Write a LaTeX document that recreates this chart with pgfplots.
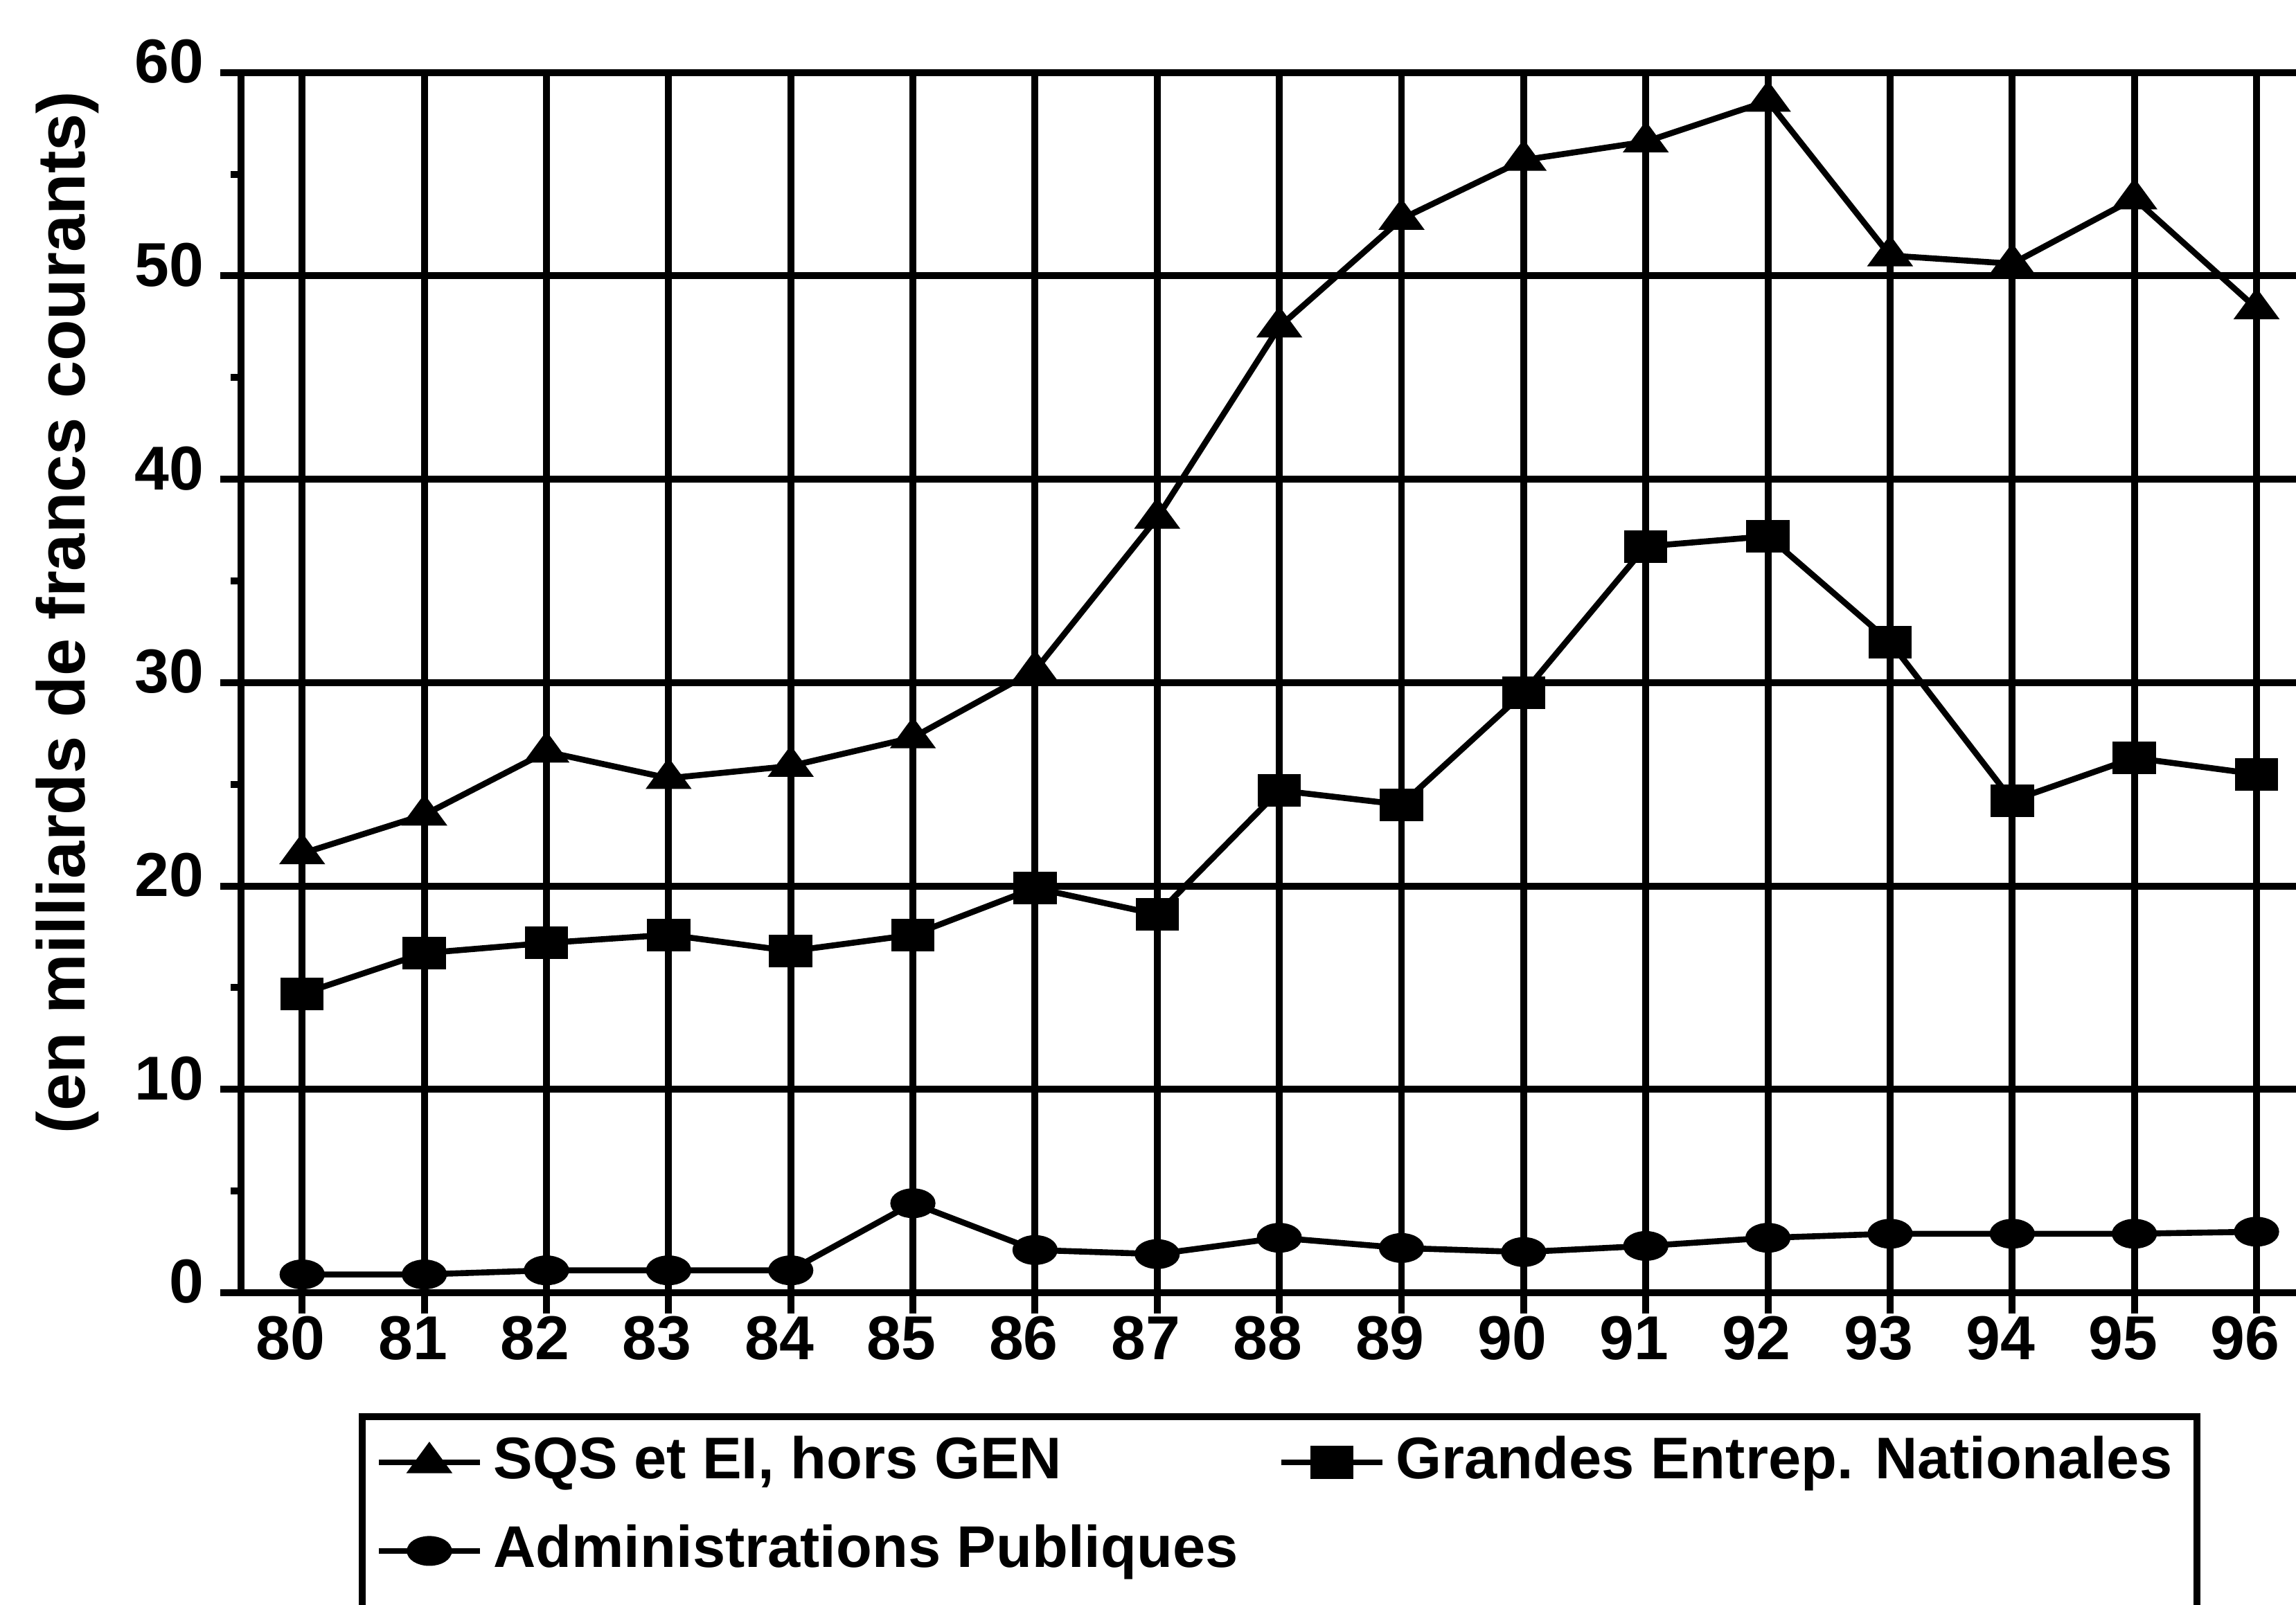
\documentclass[border=0pt]{standalone}
\usepackage{fontspec}
\setmainfont{Liberation Sans}
\usepackage{pgfplots}
\pgfplotsset{compat=1.18}

\pgfplotsset{
    every axis plot/.append style={line width=1.3pt, black},
    legend image code/.code={
        \draw[mark repeat=2,mark phase=2]
        plot coordinates {(0pt,0pt) (11pt,0pt) (22pt,0pt)};
    },
}

\begin{document}
\begin{tikzpicture}
\useasboundingbox (-52.5pt,-67.9pt) rectangle (447.5pt,281.6pt);
\begin{axis}[
    at={(0,0)}, anchor=south west,
    scale only axis,
    width=452.2pt, height=265.8pt,
    xmin=79.5, xmax=96.5,
    ymin=0, ymax=60,
    xtick={80,...,96},
    ytick={0,10,...,60},
    minor ytick={5,15,...,55},
    xtick pos=bottom, ytick pos=left,
    tick align=outside,
    major tick length=4.6pt,
    minor tick length=2.2pt,
    tick style={line width=1.5pt, black},
    grid=major,
    major grid style={line width=1.5pt, black},
    axis line style={line width=1.5pt},
    /pgf/number format/assume math mode=true,
    ticklabel style={font=\fontsize{13.5}{16}\selectfont\bfseries},
    xticklabel style={xshift=-2.5pt, yshift=3pt},
    yticklabel style={yshift=2.4pt},
    ylabel={(en milliards de francs courants)},
    ylabel style={at={(axis description cs:-0.0836,0.5575)}, anchor=center,
        font=\fontsize{14.7}{17}\selectfont\bfseries},
    legend columns=2,
    legend style={
        at={(axis description cs:0,0)}, anchor=north west,
        xshift=25.6pt, yshift=-26.2pt,
        draw=black, line width=1.5pt,
        inner xsep=3pt, inner ysep=2pt,
        font=\fontsize{12.8}{15.4}\selectfont\bfseries,
        nodes={text height=10pt, text depth=3pt, inner ysep=1.5pt, inner xsep=2.3pt},
        row sep=3.3pt,
        /tikz/every even column/.append style={column sep=6.5pt},
        cells={anchor=west},
    },
]
\addplot[mark=triangle*, mark size=3.4pt, mark options={xscale=1.27, fill=black}]
coordinates {
    (80,21.6) (81,23.5) (82,26.6) (83,25.3) (84,25.9) (85,27.3)
    (86,30.6) (87,38.1) (88,47.5) (89,52.8) (90,55.7) (91,56.6)
    (92,58.6) (93,51.0) (94,50.6) (95,53.8) (96,48.4)
};
\addlegendentry{SQS et EI, hors GEN}

\addplot[mark=square*, mark size=2.9pt, mark options={xscale=1.4, fill=black}]
coordinates {
    (80,14.7) (81,16.7) (82,17.2) (83,17.6) (84,16.8) (85,17.6)
    (86,19.9) (87,18.6) (88,24.7) (89,24.0) (90,29.5) (91,36.7)
    (92,37.2) (93,32.0) (94,24.2) (95,26.3) (96,25.5)
};
\addlegendentry{Grandes Entrep. Nationales}

\addplot[mark=*, mark size=2.6pt, mark options={xscale=1.64, fill=black}]
coordinates {
    (80,0.9) (81,0.9) (82,1.1) (83,1.1) (84,1.1) (85,4.4)
    (86,2.1) (87,1.9) (88,2.7) (89,2.2) (90,2.0) (91,2.3)
    (92,2.7) (93,2.9) (94,2.9) (95,2.9) (96,3.0)
};
\addlegendentry{Administrations Publiques}

\addlegendimage{empty legend}
\addlegendentry{}
\addlegendimage{empty legend}
\addlegendentry{}
\end{axis}
\end{tikzpicture}
\end{document}
